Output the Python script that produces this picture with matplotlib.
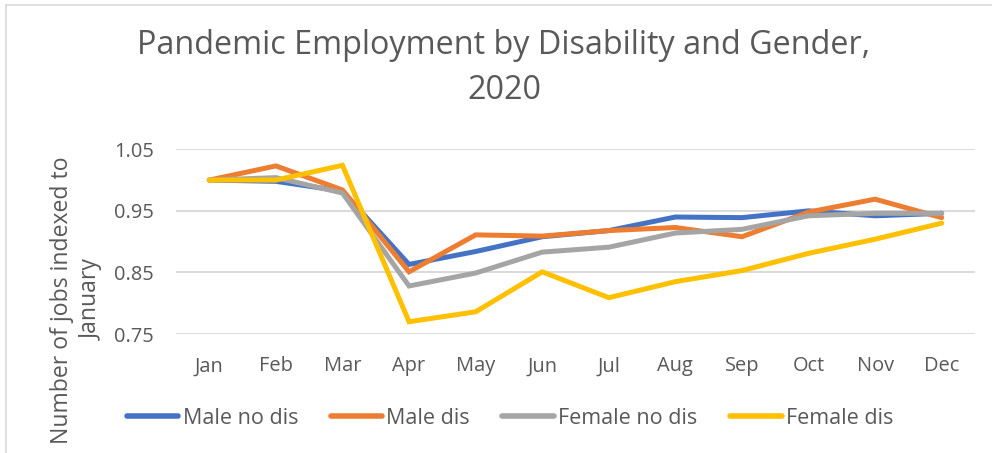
import matplotlib.pyplot as plt
from matplotlib.lines import Line2D

plt.rcParams['font.family'] = ['Open Sans', 'DejaVu Sans']

months = ['Jan', 'Feb', 'Mar', 'Apr', 'May', 'Jun', 'Jul', 'Aug', 'Sep', 'Oct', 'Nov', 'Dec']
male_no_dis = [1.000, 0.998, 0.982, 0.863, 0.884, 0.908, 0.918, 0.940, 0.939, 0.950, 0.942, 0.946]
male_dis = [1.000, 1.023, 0.984, 0.851, 0.911, 0.909, 0.918, 0.923, 0.908, 0.948, 0.969, 0.939]
female_no_dis = [1.000, 1.004, 0.979, 0.828, 0.849, 0.883, 0.891, 0.914, 0.920, 0.942, 0.946, 0.946]
female_dis = [1.000, 1.000, 1.024, 0.770, 0.786, 0.851, 0.809, 0.835, 0.853, 0.881, 0.904, 0.930]
yticks = [0.75, 0.85, 0.95, 1.05]

series = [
    ('Male no dis', male_no_dis, '#4472C4'),
    ('Male dis', male_dis, '#ED7D31'),
    ('Female no dis', female_no_dis, '#A5A5A5'),
    ('Female dis', female_dis, '#FFC000'),
]
txt = '#595959'

fig = plt.figure(figsize=(9.92, 4.53), dpi=100)
ax = fig.add_axes([176 / 992, 1 - 334 / 453, (975 - 176) / 992, (334 - 149.3) / 453])

x = range(len(months))
for name, vals, col in series:
    ax.plot(x, vals, color=col, lw=3.6, solid_capstyle='round', solid_joinstyle='miter', label=name)

ax.set_xlim(-0.5, len(months) - 0.5)
ax.set_ylim(0.75, 1.05)
ax.set_yticks(yticks)
ax.set_yticklabels([f'{v:.2f}' for v in yticks])
ax.set_xticks(list(x))
ax.set_xticklabels(months)
ax.grid(axis='y', color='#D9D9D9', lw=1.4)
ax.set_axisbelow(True)
for s in ax.spines.values():
    s.set_visible(False)
ax.tick_params(length=0, labelsize=14.4, labelcolor=txt)
ax.tick_params(axis='x', pad=16)
ax.tick_params(axis='y', pad=16)

fig.text(504 / 992, 1 - 68 / 453, 'Pandemic Employment by Disability and Gender,\n2020',
         ha='center', va='center', fontsize=23.3, color=txt, linespacing=1.45)
fig.text(77 / 992, 1 - 300 / 453, 'Number of jobs indexed to\nJanuary', rotation=90,
         ha='center', va='center', fontsize=16.6, color=txt, linespacing=1.3)

handles = [Line2D([], [], color=c, lw=4, solid_capstyle='round') for _, _, c in series]
fig.legend(handles, [n for n, _, _ in series], loc='center', bbox_to_anchor=(510 / 992, 1 - 418 / 453),
           ncol=4, frameon=False, fontsize=15.5, labelcolor=txt, handlelength=2.4,
           handletextpad=0.2, columnspacing=1.5)

# chart frame edges
fig.add_artist(Line2D([6 / 992, 6 / 992], [0, 1 - 5 / 453], color='#D9D9D9', lw=1.2))
fig.add_artist(Line2D([6 / 992, 1], [1 - 5 / 453, 1 - 5 / 453], color='#D9D9D9', lw=1.2))

fig.savefig('out.png', dpi=100)
